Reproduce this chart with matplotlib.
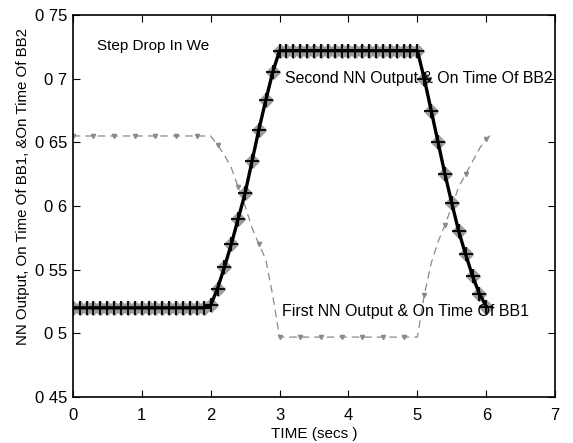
import numpy as np
import matplotlib
matplotlib.use("Agg")
import matplotlib.pyplot as plt

plt.rcParams['font.family'] = ['Liberation Sans', 'DejaVu Sans']

# Data
time_second = [round(0.1 * i, 1) for i in range(61)]
second_nn = ([0.520] * 20 +
             [0.522, 0.535, 0.552, 0.570, 0.590, 0.610, 0.635, 0.660, 0.683, 0.705, 0.722] +
             [0.722] * 20 +
             [0.700, 0.675, 0.650, 0.625, 0.602, 0.580, 0.562, 0.545, 0.531, 0.521])

time_first = [round(0.1 * i, 1) for i in range(62)]
first_nn = ([0.655] * 21 +
            [0.648, 0.640, 0.630, 0.615, 0.600, 0.583, 0.570, 0.558, 0.530, 0.497] +
            [0.497] * 20 +
            [0.530, 0.555, 0.572, 0.585, 0.600, 0.615, 0.625, 0.635, 0.645, 0.653, 0.657])

xticks = [0, 1, 2, 3, 4, 5, 6, 7]
yticks = [0.45, 0.5, 0.55, 0.6, 0.65, 0.7, 0.75]
ytick_labels = ["0 45", "0 5", "0 55", "0 6", "0 65", "0 7", "0 75"]

fig = plt.figure(figsize=(5.73, 4.43), dpi=100)
ax = fig.add_axes([0.127, 0.104, 0.842, 0.862])

# First NN output: thin gray dashed with small markers
ax.plot(time_first, first_nn, color='#8a8a8a', linestyle=(0, (6, 4)), linewidth=0.9,
        marker='v', markersize=3, markevery=3, markerfacecolor='#8a8a8a',
        markeredgecolor='#8a8a8a')

# Second NN output: thick black with + and gray diamond markers
ax.plot(time_second, second_nn, color='#9a9a9a', linestyle='none', marker='D',
        markersize=7, markeredgecolor='#9a9a9a')
ax.plot(time_second, second_nn, color='black', linewidth=2.4, marker='+',
        markersize=10, markeredgewidth=1.3)

ax.set_xlim(0, 7)
ax.set_ylim(0.45, 0.75)
ax.set_xticks(xticks)
ax.set_yticks(yticks)
ax.set_yticklabels(ytick_labels)
ax.tick_params(direction='in', length=5, labelsize=12, top=True, right=True)
ax.tick_params(axis='x', pad=8)
ax.tick_params(axis='y', pad=4)
for s in ax.spines.values():
    s.set_linewidth(1.2)

ax.set_xlabel("TIME (secs )", fontsize=11)
ax.xaxis.set_label_coords(0.5, -0.08)
ax.set_ylabel("NN Output, On Time Of BB1, &On Time Of BB2", fontsize=10.8)
ax.yaxis.set_label_coords(-0.089, 0.55)

ax.text(0.35, 0.7225, "Step Drop In We", fontsize=11)
ax.text(3.08, 0.6965, "Second NN Output & On Time Of BB2", fontsize=11.4)
ax.text(3.03, 0.5135, "First NN Output & On Time Of BB1", fontsize=11.5)

fig.savefig("out.png", dpi=100)
